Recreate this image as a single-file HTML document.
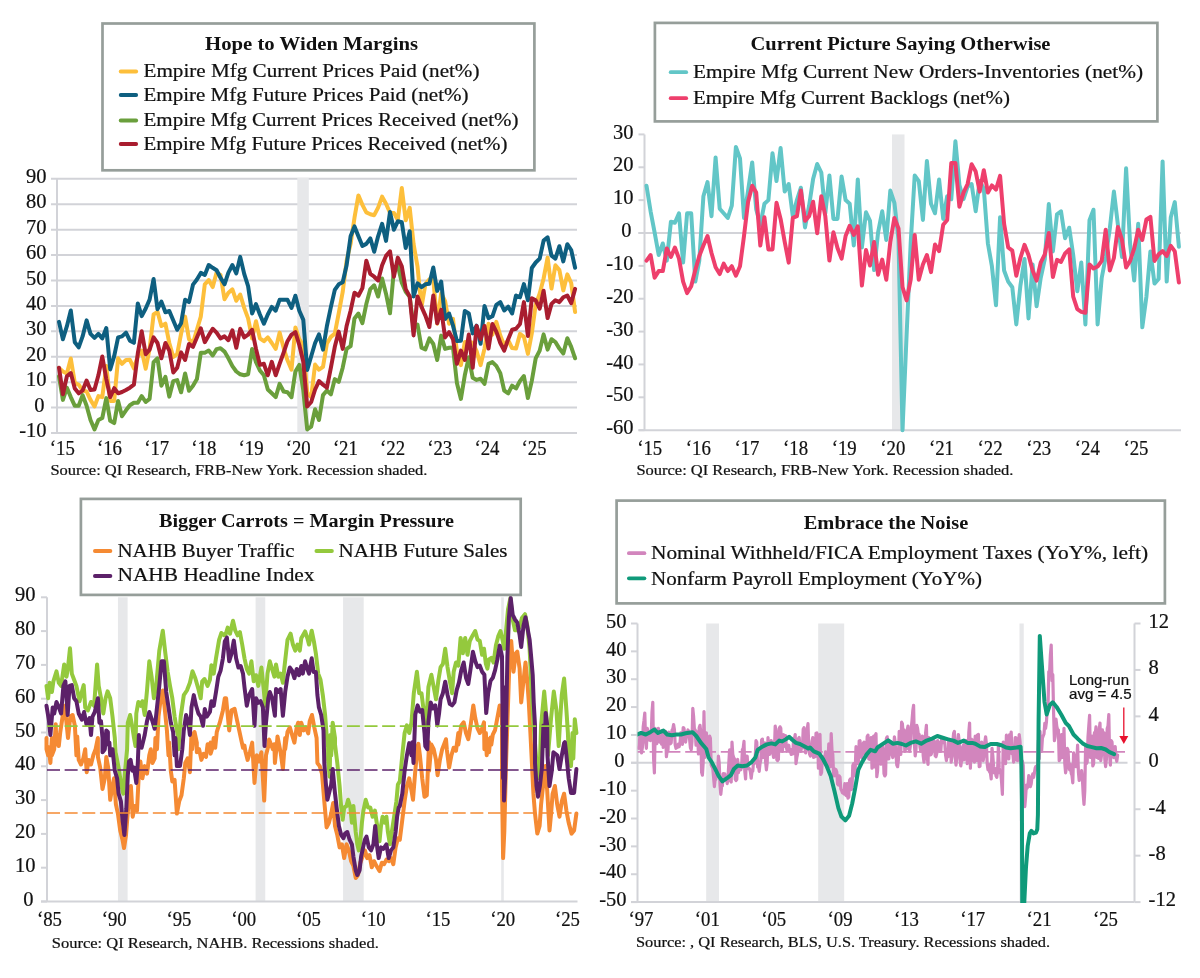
<!DOCTYPE html>
<html lang="en"><head><meta charset="utf-8"><title>Charts</title>
<style>
html,body{margin:0;padding:0;background:#fff;}
svg{display:block;font-family:"Liberation Serif", serif;}
</style></head><body>
<svg width="1200" height="978" viewBox="0 0 1200 978">
<rect width="1200" height="978" fill="#fff"/>
<line x1="51" y1="432.96000000000004" x2="577" y2="432.96000000000004" stroke="#d2d3d8" stroke-width="2.0"/>
<line x1="51" y1="407.55" x2="577" y2="407.55" stroke="#d2d3d8" stroke-width="2.0"/>
<line x1="51" y1="382.14" x2="577" y2="382.14" stroke="#d2d3d8" stroke-width="2.0"/>
<line x1="51" y1="356.73" x2="577" y2="356.73" stroke="#d2d3d8" stroke-width="2.0"/>
<line x1="51" y1="331.32" x2="577" y2="331.32" stroke="#d2d3d8" stroke-width="2.0"/>
<line x1="51" y1="305.91" x2="577" y2="305.91" stroke="#d2d3d8" stroke-width="2.0"/>
<line x1="51" y1="280.5" x2="577" y2="280.5" stroke="#d2d3d8" stroke-width="2.0"/>
<line x1="51" y1="255.09" x2="577" y2="255.09" stroke="#d2d3d8" stroke-width="2.0"/>
<line x1="51" y1="229.68" x2="577" y2="229.68" stroke="#d2d3d8" stroke-width="2.0"/>
<line x1="51" y1="204.27" x2="577" y2="204.27" stroke="#d2d3d8" stroke-width="2.0"/>
<line x1="51" y1="178.86" x2="577" y2="178.86" stroke="#d2d3d8" stroke-width="2.0"/>
<rect x="297.3" y="177.86" width="11.50" height="254.10" fill="#e7e8ea"/>
<line x1="57" y1="178.86" x2="57" y2="432.96000000000004" stroke="#d2d3d8" stroke-width="2.0"/>
<text x="46.5" y="437.11" font-size="20.5" text-anchor="end" fill="#111" stroke="#111" stroke-width="0.22">-10</text>
<text x="44.5" y="411.7" font-size="20.5" text-anchor="end" fill="#111" stroke="#111" stroke-width="0.22">0</text>
<text x="46.5" y="386.28999999999996" font-size="20.5" text-anchor="end" fill="#111" stroke="#111" stroke-width="0.22">10</text>
<text x="46.5" y="360.88" font-size="20.5" text-anchor="end" fill="#111" stroke="#111" stroke-width="0.22">20</text>
<text x="46.5" y="335.46999999999997" font-size="20.5" text-anchor="end" fill="#111" stroke="#111" stroke-width="0.22">30</text>
<text x="46.5" y="310.06" font-size="20.5" text-anchor="end" fill="#111" stroke="#111" stroke-width="0.22">40</text>
<text x="46.5" y="284.65" font-size="20.5" text-anchor="end" fill="#111" stroke="#111" stroke-width="0.22">50</text>
<text x="46.5" y="259.24" font-size="20.5" text-anchor="end" fill="#111" stroke="#111" stroke-width="0.22">60</text>
<text x="46.5" y="233.83" font-size="20.5" text-anchor="end" fill="#111" stroke="#111" stroke-width="0.22">70</text>
<text x="46.5" y="208.42000000000002" font-size="20.5" text-anchor="end" fill="#111" stroke="#111" stroke-width="0.22">80</text>
<text x="46.5" y="183.01000000000002" font-size="20.5" text-anchor="end" fill="#111" stroke="#111" stroke-width="0.22">90</text>
<text x="49.8" y="454.6" font-size="20.5" text-anchor="start" fill="#111" textLength="25" lengthAdjust="spacingAndGlyphs" stroke="#111" stroke-width="0.22">‘15</text>
<text x="96.97999999999999" y="454.6" font-size="20.5" text-anchor="start" fill="#111" textLength="25" lengthAdjust="spacingAndGlyphs" stroke="#111" stroke-width="0.22">‘16</text>
<text x="144.16" y="454.6" font-size="20.5" text-anchor="start" fill="#111" textLength="25" lengthAdjust="spacingAndGlyphs" stroke="#111" stroke-width="0.22">‘17</text>
<text x="191.33999999999997" y="454.6" font-size="20.5" text-anchor="start" fill="#111" textLength="25" lengthAdjust="spacingAndGlyphs" stroke="#111" stroke-width="0.22">‘18</text>
<text x="238.51999999999998" y="454.6" font-size="20.5" text-anchor="start" fill="#111" textLength="25" lengthAdjust="spacingAndGlyphs" stroke="#111" stroke-width="0.22">‘19</text>
<text x="285.7" y="454.6" font-size="20.5" text-anchor="start" fill="#111" textLength="25" lengthAdjust="spacingAndGlyphs" stroke="#111" stroke-width="0.22">‘20</text>
<text x="332.88" y="454.6" font-size="20.5" text-anchor="start" fill="#111" textLength="25" lengthAdjust="spacingAndGlyphs" stroke="#111" stroke-width="0.22">‘21</text>
<text x="380.06" y="454.6" font-size="20.5" text-anchor="start" fill="#111" textLength="25" lengthAdjust="spacingAndGlyphs" stroke="#111" stroke-width="0.22">‘22</text>
<text x="427.24" y="454.6" font-size="20.5" text-anchor="start" fill="#111" textLength="25" lengthAdjust="spacingAndGlyphs" stroke="#111" stroke-width="0.22">‘23</text>
<text x="474.42" y="454.6" font-size="20.5" text-anchor="start" fill="#111" textLength="25" lengthAdjust="spacingAndGlyphs" stroke="#111" stroke-width="0.22">‘24</text>
<text x="521.6" y="454.6" font-size="20.5" text-anchor="start" fill="#111" textLength="25" lengthAdjust="spacingAndGlyphs" stroke="#111" stroke-width="0.22">‘25</text>
<text x="50.4" y="475" font-size="15" text-anchor="start" fill="#111" textLength="377" lengthAdjust="spacingAndGlyphs" stroke="#111" stroke-width="0.22">Source: QI Research, FRB-New York. Recession shaded.</text>
<polyline points="59.0,367.9 62.9,371.5 66.9,373.5 70.8,358.5 74.8,382.9 78.7,384.7 82.6,390.5 86.6,391.5 90.5,399.9 94.5,406.5 98.4,396.1 102.3,397.1 106.3,365.9 110.2,400.9 114.2,400.9 118.1,358.3 122.0,363.8 126.0,360.0 129.9,359.8 133.9,368.4 137.8,356.2 141.7,350.6 145.7,368.7 149.6,348.9 153.6,314.5 157.5,311.8 161.4,326.0 165.4,323.7 169.3,343.0 173.3,357.0 177.2,354.2 181.1,333.6 185.1,316.6 189.0,339.2 193.0,343.0 196.9,329.8 200.8,316.6 204.8,284.3 208.7,280.0 212.7,287.1 216.6,272.6 220.5,274.9 224.5,299.3 228.4,292.7 232.4,289.4 236.3,300.8 240.2,294.5 244.2,307.9 248.1,318.4 252.1,338.4 256.0,321.2 259.9,338.4 263.9,341.2 267.8,337.4 271.8,343.0 275.7,348.9 279.6,332.6 283.6,347.8 287.5,360.3 291.5,369.7 295.4,327.5 299.3,339.2 303.3,345.3 307.2,392.8 311.2,397.1 315.1,364.6 319.0,369.7 323.0,366.9 326.9,343.5 330.9,336.9 334.8,333.6 338.7,313.3 342.7,291.9 346.6,260.7 350.6,243.9 354.5,217.7 358.4,195.4 362.4,204.8 366.3,212.4 370.3,214.2 374.2,215.2 378.1,207.6 382.1,196.6 386.0,203.8 390.0,212.7 393.9,212.9 397.8,220.0 401.8,188.0 405.7,220.3 409.7,207.8 413.6,244.2 417.5,266.5 421.5,306.9 425.4,284.1 429.4,279.2 433.3,279.2 437.2,323.7 441.2,293.2 445.1,301.1 449.1,323.7 453.0,318.9 456.9,351.6 460.9,365.1 464.8,342.0 468.8,342.0 472.7,342.8 476.6,351.1 480.6,365.1 484.5,348.6 488.5,323.7 492.4,334.6 496.3,321.9 500.3,335.6 504.2,345.3 508.2,340.2 512.1,348.1 516.0,348.6 520.0,333.9 523.9,336.9 527.9,353.9 531.8,333.4 535.7,304.6 539.7,293.5 543.6,278.5 547.6,257.6 551.5,288.6 555.4,265.3 559.4,270.1 563.3,290.4 567.3,274.4 571.2,283.0 575.1,312.0" fill="none" stroke="#fdbf3b" stroke-width="4.0" stroke-linejoin="round" stroke-linecap="round"/>
<polyline points="59.0,321.9 62.9,339.2 66.9,326.2 70.8,310.5 74.8,342.2 78.7,347.3 82.6,336.4 86.6,320.4 90.5,333.9 94.5,337.9 98.4,333.9 102.3,338.4 106.3,328.0 110.2,369.4 114.2,356.2 118.1,337.4 122.0,336.4 126.0,332.6 129.9,340.7 133.9,342.8 137.8,303.4 141.7,316.1 145.7,308.5 149.6,299.6 153.6,279.0 157.5,309.2 161.4,301.6 165.4,312.3 169.3,311.0 173.3,320.6 177.2,329.8 181.1,323.2 185.1,299.8 189.0,302.1 193.0,284.6 196.9,279.5 200.8,272.9 204.8,274.9 208.7,265.0 212.7,267.8 216.6,270.3 220.5,277.7 224.5,284.3 228.4,272.6 232.4,265.0 236.3,273.4 240.2,256.9 244.2,273.9 248.1,286.1 252.1,313.5 256.0,304.1 259.9,314.5 263.9,323.7 267.8,314.5 271.8,306.9 275.7,310.7 279.6,299.8 283.6,299.8 287.5,299.8 291.5,307.9 295.4,295.7 299.3,310.7 303.3,319.9 307.2,369.9 311.2,356.2 315.1,343.0 319.0,334.4 323.0,349.6 326.9,326.0 330.9,306.9 334.8,289.9 338.7,284.3 342.7,282.3 346.6,265.3 350.6,236.3 354.5,226.4 358.4,236.3 362.4,245.9 366.3,243.9 370.3,238.3 374.2,251.8 378.1,236.3 382.1,223.8 386.0,240.9 390.0,212.1 393.9,229.7 397.8,221.3 401.8,222.3 405.7,248.0 409.7,231.2 413.6,296.5 417.5,283.3 421.5,287.1 425.4,284.3 429.4,283.8 433.3,267.5 437.2,290.9 441.2,281.5 445.1,319.1 449.1,313.5 453.0,325.7 456.9,341.0 460.9,340.7 464.8,311.0 468.8,313.5 472.7,333.4 476.6,325.7 480.6,343.8 484.5,305.9 488.5,318.1 492.4,316.3 496.3,304.9 500.3,302.1 504.2,310.5 508.2,306.7 512.1,313.5 516.0,295.5 520.0,297.3 523.9,284.1 527.9,300.3 531.8,268.0 535.7,262.5 539.7,258.6 543.6,240.6 547.6,237.3 551.5,255.6 555.4,258.6 559.4,246.2 563.3,261.4 567.3,244.2 571.2,250.0 575.1,267.8" fill="none" stroke="#0e5f80" stroke-width="4.0" stroke-linejoin="round" stroke-linecap="round"/>
<polyline points="59.0,376.3 62.9,399.9 66.9,387.7 70.8,397.1 74.8,405.8 78.7,405.8 82.6,395.1 86.6,405.8 90.5,420.0 94.5,429.4 98.4,420.0 102.3,418.0 106.3,398.1 110.2,420.8 114.2,423.1 118.1,400.9 122.0,416.2 126.0,410.3 129.9,405.3 133.9,402.7 137.8,402.7 141.7,396.1 145.7,402.0 149.6,398.9 153.6,362.1 157.5,358.3 161.4,385.7 165.4,376.8 169.3,396.6 173.3,381.1 177.2,380.1 181.1,392.3 185.1,373.5 189.0,390.8 193.0,385.7 196.9,379.1 200.8,352.7 204.8,352.7 208.7,350.6 212.7,355.5 216.6,349.1 220.5,348.3 224.5,351.6 228.4,358.3 232.4,366.1 236.3,371.5 240.2,374.3 244.2,375.3 248.1,374.3 252.1,349.1 256.0,362.1 259.9,370.5 263.9,375.3 267.8,389.5 271.8,393.3 275.7,397.1 279.6,383.9 283.6,391.5 287.5,392.3 291.5,397.1 295.4,371.5 299.3,364.9 303.3,390.5 307.2,429.4 311.2,426.6 315.1,409.3 319.0,420.0 323.0,395.1 326.9,390.5 330.9,394.3 334.8,379.1 338.7,381.9 342.7,367.7 346.6,348.9 350.6,346.1 354.5,318.4 358.4,313.5 362.4,323.2 366.3,304.1 370.3,289.1 374.2,285.3 378.1,296.5 382.1,278.5 386.0,293.7 390.0,313.3 393.9,270.1 397.8,265.0 401.8,282.8 405.7,291.7 409.7,296.8 413.6,328.0 417.5,324.5 421.5,347.6 425.4,349.4 429.4,338.4 433.3,344.0 437.2,360.0 441.2,335.6 445.1,348.9 449.1,347.8 453.0,347.6 456.9,382.9 460.9,398.9 464.8,375.3 468.8,357.2 472.7,377.8 476.6,379.9 480.6,378.8 484.5,383.9 488.5,363.8 492.4,362.1 496.3,365.9 500.3,373.2 504.2,390.5 508.2,393.3 512.1,385.7 516.0,388.5 520.0,380.9 523.9,376.0 527.9,398.1 531.8,380.9 535.7,358.3 539.7,350.6 543.6,334.4 547.6,349.6 551.5,339.2 555.4,342.0 559.4,348.6 563.3,353.4 567.3,338.2 571.2,346.8 575.1,358.3" fill="none" stroke="#6a9f3c" stroke-width="4.0" stroke-linejoin="round" stroke-linecap="round"/>
<polyline points="59.0,367.7 62.9,394.3 66.9,376.3 70.8,373.0 74.8,388.5 78.7,393.3 82.6,390.5 86.6,380.6 90.5,390.0 94.5,389.5 98.4,375.3 102.3,356.5 106.3,379.1 110.2,397.1 114.2,388.2 118.1,393.3 122.0,392.0 126.0,390.0 129.9,387.7 133.9,384.7 137.8,353.4 141.7,331.3 145.7,354.2 149.6,349.6 153.6,337.4 157.5,343.0 161.4,358.3 165.4,343.0 169.3,350.6 173.3,372.5 177.2,367.7 181.1,352.4 185.1,360.0 189.0,344.0 193.0,346.8 196.9,337.4 200.8,328.3 204.8,342.2 208.7,335.4 212.7,328.8 216.6,332.6 220.5,338.4 224.5,336.4 228.4,340.2 232.4,330.3 236.3,347.8 240.2,328.8 244.2,337.4 248.1,334.6 252.1,329.8 256.0,348.9 259.9,364.9 263.9,363.8 267.8,375.3 271.8,361.8 275.7,375.3 279.6,363.8 283.6,352.7 287.5,341.2 291.5,334.6 295.4,332.1 299.3,345.0 303.3,361.8 307.2,406.5 311.2,402.0 315.1,389.5 319.0,381.1 323.0,384.7 326.9,387.7 330.9,367.7 334.8,346.8 338.7,331.6 342.7,348.9 346.6,326.0 350.6,310.7 354.5,292.7 358.4,295.7 362.4,288.1 366.3,260.7 370.3,273.9 374.2,276.7 378.1,280.5 382.1,265.3 386.0,255.9 390.0,251.3 393.9,276.7 397.8,257.6 401.8,266.3 405.7,289.1 409.7,296.5 413.6,335.4 417.5,296.5 421.5,306.9 425.4,315.6 429.4,327.0 433.3,295.5 437.2,323.2 441.2,309.7 445.1,337.4 449.1,332.1 453.0,339.2 456.9,363.8 460.9,350.6 464.8,360.0 468.8,334.6 472.7,367.7 476.6,326.0 480.6,339.2 484.5,326.0 488.5,348.6 492.4,324.0 496.3,331.6 500.3,343.0 504.2,350.6 508.2,339.2 512.1,329.8 516.0,328.8 520.0,324.0 523.9,302.1 527.9,336.1 531.8,298.3 535.7,300.3 539.7,308.7 543.6,290.7 547.6,318.1 551.5,303.9 555.4,300.3 559.4,302.1 563.3,297.3 567.3,295.5 571.2,303.1 575.1,288.9" fill="none" stroke="#a91d2f" stroke-width="4.0" stroke-linejoin="round" stroke-linecap="round"/>
<rect x="102.5" y="23.5" width="431.9" height="146.8" fill="#fff" stroke="#969e9a" stroke-width="2.7"/>
<text x="311.5" y="50" font-size="19.6" text-anchor="middle" fill="#111" textLength="213" lengthAdjust="spacingAndGlyphs" font-weight="bold">Hope to Widen Margins</text>
<line x1="120.7" y1="71.5" x2="136.2" y2="71.5" stroke="#fdbf3b" stroke-width="3.8" stroke-linecap="round"/>
<text x="143.5" y="77.3" font-size="19.3" text-anchor="start" fill="#111" textLength="336" lengthAdjust="spacingAndGlyphs" stroke="#111" stroke-width="0.22">Empire Mfg Current Prices Paid (net%)</text>
<line x1="120.7" y1="95" x2="136.2" y2="95" stroke="#0e5f80" stroke-width="3.8" stroke-linecap="round"/>
<text x="143.5" y="100.8" font-size="19.3" text-anchor="start" fill="#111" textLength="325" lengthAdjust="spacingAndGlyphs" stroke="#111" stroke-width="0.22">Empire Mfg Future Prices Paid (net%)</text>
<line x1="120.7" y1="120.5" x2="136.2" y2="120.5" stroke="#6a9f3c" stroke-width="3.8" stroke-linecap="round"/>
<text x="143.5" y="126.3" font-size="19.3" text-anchor="start" fill="#111" textLength="375" lengthAdjust="spacingAndGlyphs" stroke="#111" stroke-width="0.22">Empire Mfg Current Prices Received (net%)</text>
<line x1="120.7" y1="144" x2="136.2" y2="144" stroke="#a91d2f" stroke-width="3.8" stroke-linecap="round"/>
<text x="143.5" y="149.8" font-size="19.3" text-anchor="start" fill="#111" textLength="364" lengthAdjust="spacingAndGlyphs" stroke="#111" stroke-width="0.22">Empire Mfg Future Prices Received (net%)</text>
<rect x="892" y="134.42000000000002" width="12.50" height="295.74" fill="#e7e8ea"/>
<line x1="638.5" y1="233.0" x2="1181" y2="233.0" stroke="#d2d3d8" stroke-width="2.0"/>
<line x1="638.5" y1="430.15999999999997" x2="1181" y2="430.15999999999997" stroke="#d2d3d8" stroke-width="2.0"/>
<line x1="644.5" y1="134.42000000000002" x2="644.5" y2="430.15999999999997" stroke="#d2d3d8" stroke-width="2.0"/>
<line x1="638.5" y1="430.15999999999997" x2="644.5" y2="430.15999999999997" stroke="#d2d3d8" stroke-width="2.0"/>
<text x="633.5" y="434.30999999999995" font-size="20.5" text-anchor="end" fill="#111" stroke="#111" stroke-width="0.22">-60</text>
<line x1="638.5" y1="397.3" x2="644.5" y2="397.3" stroke="#d2d3d8" stroke-width="2.0"/>
<text x="633.5" y="401.45" font-size="20.5" text-anchor="end" fill="#111" stroke="#111" stroke-width="0.22">-50</text>
<line x1="638.5" y1="364.44" x2="644.5" y2="364.44" stroke="#d2d3d8" stroke-width="2.0"/>
<text x="633.5" y="368.59" font-size="20.5" text-anchor="end" fill="#111" stroke="#111" stroke-width="0.22">-40</text>
<line x1="638.5" y1="331.58" x2="644.5" y2="331.58" stroke="#d2d3d8" stroke-width="2.0"/>
<text x="633.5" y="335.72999999999996" font-size="20.5" text-anchor="end" fill="#111" stroke="#111" stroke-width="0.22">-30</text>
<line x1="638.5" y1="298.72" x2="644.5" y2="298.72" stroke="#d2d3d8" stroke-width="2.0"/>
<text x="633.5" y="302.87" font-size="20.5" text-anchor="end" fill="#111" stroke="#111" stroke-width="0.22">-20</text>
<line x1="638.5" y1="265.86" x2="644.5" y2="265.86" stroke="#d2d3d8" stroke-width="2.0"/>
<text x="633.5" y="270.01" font-size="20.5" text-anchor="end" fill="#111" stroke="#111" stroke-width="0.22">-10</text>
<line x1="638.5" y1="233.0" x2="644.5" y2="233.0" stroke="#d2d3d8" stroke-width="2.0"/>
<text x="631.5" y="237.15" font-size="20.5" text-anchor="end" fill="#111" stroke="#111" stroke-width="0.22">0</text>
<line x1="638.5" y1="200.14" x2="644.5" y2="200.14" stroke="#d2d3d8" stroke-width="2.0"/>
<text x="633.5" y="204.29" font-size="20.5" text-anchor="end" fill="#111" stroke="#111" stroke-width="0.22">10</text>
<line x1="638.5" y1="167.28" x2="644.5" y2="167.28" stroke="#d2d3d8" stroke-width="2.0"/>
<text x="633.5" y="171.43" font-size="20.5" text-anchor="end" fill="#111" stroke="#111" stroke-width="0.22">20</text>
<line x1="638.5" y1="134.42000000000002" x2="644.5" y2="134.42000000000002" stroke="#d2d3d8" stroke-width="2.0"/>
<text x="633.5" y="138.57000000000002" font-size="20.5" text-anchor="end" fill="#111" stroke="#111" stroke-width="0.22">30</text>
<text x="637.2" y="454.6" font-size="20.5" text-anchor="start" fill="#111" textLength="25" lengthAdjust="spacingAndGlyphs" stroke="#111" stroke-width="0.22">‘15</text>
<text x="685.82" y="454.6" font-size="20.5" text-anchor="start" fill="#111" textLength="25" lengthAdjust="spacingAndGlyphs" stroke="#111" stroke-width="0.22">‘16</text>
<text x="734.44" y="454.6" font-size="20.5" text-anchor="start" fill="#111" textLength="25" lengthAdjust="spacingAndGlyphs" stroke="#111" stroke-width="0.22">‘17</text>
<text x="783.0600000000001" y="454.6" font-size="20.5" text-anchor="start" fill="#111" textLength="25" lengthAdjust="spacingAndGlyphs" stroke="#111" stroke-width="0.22">‘18</text>
<text x="831.6800000000001" y="454.6" font-size="20.5" text-anchor="start" fill="#111" textLength="25" lengthAdjust="spacingAndGlyphs" stroke="#111" stroke-width="0.22">‘19</text>
<text x="880.3000000000001" y="454.6" font-size="20.5" text-anchor="start" fill="#111" textLength="25" lengthAdjust="spacingAndGlyphs" stroke="#111" stroke-width="0.22">‘20</text>
<text x="928.9200000000001" y="454.6" font-size="20.5" text-anchor="start" fill="#111" textLength="25" lengthAdjust="spacingAndGlyphs" stroke="#111" stroke-width="0.22">‘21</text>
<text x="977.54" y="454.6" font-size="20.5" text-anchor="start" fill="#111" textLength="25" lengthAdjust="spacingAndGlyphs" stroke="#111" stroke-width="0.22">‘22</text>
<text x="1026.16" y="454.6" font-size="20.5" text-anchor="start" fill="#111" textLength="25" lengthAdjust="spacingAndGlyphs" stroke="#111" stroke-width="0.22">‘23</text>
<text x="1074.78" y="454.6" font-size="20.5" text-anchor="start" fill="#111" textLength="25" lengthAdjust="spacingAndGlyphs" stroke="#111" stroke-width="0.22">‘24</text>
<text x="1123.4" y="454.6" font-size="20.5" text-anchor="start" fill="#111" textLength="25" lengthAdjust="spacingAndGlyphs" stroke="#111" stroke-width="0.22">‘25</text>
<text x="636.4" y="475" font-size="15" text-anchor="start" fill="#111" textLength="377" lengthAdjust="spacingAndGlyphs" stroke="#111" stroke-width="0.22">Source: QI Research, FRB-New York. Recession shaded.</text>
<polyline points="646.5,185.7 650.6,211.3 654.6,232.3 658.7,255.0 662.8,243.5 666.8,260.6 670.9,221.8 674.9,222.8 679.0,213.3 683.1,262.6 687.1,213.3 691.2,213.3 695.3,281.6 699.3,260.6 703.4,196.2 707.5,182.1 711.5,216.2 715.6,157.4 719.7,208.7 723.7,213.3 727.8,217.9 731.8,205.7 735.9,146.9 740.0,158.4 744.0,217.9 748.1,190.6 752.2,162.4 756.2,209.3 760.3,224.8 764.4,203.8 768.4,200.1 772.5,153.2 776.5,181.1 780.6,147.9 784.7,191.6 788.7,184.0 792.8,216.2 796.9,200.1 800.9,187.7 805.0,227.4 809.1,205.7 813.1,179.1 817.2,164.0 821.3,172.5 825.3,213.3 829.4,175.5 833.4,218.9 837.5,218.9 841.6,176.5 845.6,200.1 849.7,203.8 853.8,245.5 857.8,179.4 861.9,247.5 866.0,212.3 870.0,220.8 874.1,270.1 878.1,232.3 882.2,211.3 886.3,239.9 890.3,190.6 894.4,202.8 898.5,239.6 902.5,430.2 906.6,334.9 910.7,242.9 914.7,175.5 918.8,181.1 922.9,219.9 926.9,161.0 931.0,203.8 935.0,213.3 939.1,179.4 943.2,218.9 947.2,196.2 951.3,199.2 955.4,141.3 959.4,185.0 963.5,199.2 967.6,186.7 971.6,184.0 975.7,211.3 979.7,181.1 983.8,188.6 987.9,243.5 991.9,266.2 996.0,305.3 1000.1,217.2 1004.1,270.5 1008.2,281.6 1012.3,287.2 1016.3,324.4 1020.4,285.6 1024.5,259.0 1028.5,318.4 1032.6,264.5 1036.6,306.3 1040.7,278.0 1044.8,259.0 1048.8,204.1 1052.9,251.4 1057.0,214.3 1061.0,211.3 1065.1,238.3 1069.2,227.7 1073.2,255.0 1077.3,291.2 1081.3,262.6 1085.4,324.4 1089.5,220.2 1093.5,209.7 1097.6,324.4 1101.7,278.0 1105.7,257.0 1109.8,228.7 1113.9,191.6 1117.9,224.8 1122.0,257.0 1126.1,168.3 1130.1,243.8 1134.2,280.6 1138.2,223.8 1142.3,327.3 1146.4,296.7 1150.4,251.4 1154.5,283.6 1158.6,279.0 1162.6,161.4 1166.7,281.6 1170.8,217.2 1174.8,202.1 1178.9,246.8" fill="none" stroke="#62c6c7" stroke-width="4.0" stroke-linejoin="round" stroke-linecap="round"/>
<polyline points="646.5,260.6 650.6,255.0 654.6,277.7 658.7,271.1 662.8,271.1 666.8,248.4 670.9,257.0 674.9,247.5 679.0,258.6 683.1,281.6 687.1,293.1 691.2,286.2 695.3,270.1 699.3,256.0 703.4,245.5 707.5,236.0 711.5,253.0 715.6,267.2 719.7,274.1 723.7,263.6 727.8,271.1 731.8,266.2 735.9,275.7 740.0,266.2 744.0,236.0 748.1,201.8 752.2,185.7 756.2,192.6 760.3,245.5 764.4,217.2 768.4,249.4 772.5,249.4 776.5,202.8 780.6,218.9 784.7,241.9 788.7,262.6 792.8,217.9 796.9,216.2 800.9,190.6 805.0,220.8 809.1,216.2 813.1,201.8 817.2,233.3 821.3,196.2 825.3,216.2 829.4,260.6 833.4,232.3 837.5,248.1 841.6,258.6 845.6,236.0 849.7,225.8 853.8,235.0 857.8,226.4 861.9,285.6 866.0,250.1 870.0,265.5 874.1,241.9 878.1,274.7 882.2,259.6 886.3,279.7 890.3,241.9 894.4,217.9 898.5,228.4 902.5,287.2 906.6,300.4 910.7,279.7 914.7,235.0 918.8,279.7 922.9,264.5 926.9,255.0 931.0,272.1 935.0,244.5 939.1,251.1 943.2,224.8 947.2,219.9 951.3,163.0 955.4,163.0 959.4,206.7 963.5,192.6 967.6,184.0 971.6,164.3 975.7,171.6 979.7,191.6 983.8,170.2 987.9,192.6 991.9,185.4 996.0,189.6 1000.1,175.8 1004.1,223.8 1008.2,247.5 1012.3,250.7 1016.3,275.7 1020.4,258.0 1024.5,244.8 1028.5,255.0 1032.6,270.5 1036.6,280.6 1040.7,262.6 1044.8,254.4 1048.8,233.0 1052.9,277.0 1057.0,259.9 1061.0,261.9 1065.1,253.4 1069.2,249.4 1073.2,296.7 1077.3,309.2 1081.3,311.9 1085.4,312.8 1089.5,264.5 1093.5,268.5 1097.6,266.5 1101.7,260.9 1105.7,229.7 1109.8,270.5 1113.9,258.0 1117.9,227.1 1122.0,239.9 1126.1,267.5 1130.1,260.9 1134.2,248.4 1138.2,229.7 1142.3,239.9 1146.4,219.5 1150.4,216.9 1154.5,260.9 1158.6,254.4 1162.6,251.1 1166.7,256.0 1170.8,245.8 1174.8,251.4 1178.9,282.6" fill="none" stroke="#ee3f6c" stroke-width="4.0" stroke-linejoin="round" stroke-linecap="round"/>
<rect x="654.9" y="22.9" width="502.5000000000001" height="98.5" fill="#fff" stroke="#969e9a" stroke-width="2.7"/>
<text x="900.5" y="50" font-size="19.6" text-anchor="middle" fill="#111" textLength="300" lengthAdjust="spacingAndGlyphs" font-weight="bold">Current Picture Saying Otherwise</text>
<line x1="670.7" y1="72.2" x2="686.2" y2="72.2" stroke="#62c6c7" stroke-width="3.8" stroke-linecap="round"/>
<text x="693" y="77.85" font-size="19.3" text-anchor="start" fill="#111" textLength="450" lengthAdjust="spacingAndGlyphs" stroke="#111" stroke-width="0.22">Empire Mfg Current New Orders-Inventories (net%)</text>
<line x1="670.7" y1="98.2" x2="686.2" y2="98.2" stroke="#ee3f6c" stroke-width="3.8" stroke-linecap="round"/>
<text x="693" y="104.35" font-size="19.3" text-anchor="start" fill="#111" textLength="317" lengthAdjust="spacingAndGlyphs" stroke="#111" stroke-width="0.22">Empire Mfg Current Backlogs (net%)</text>
<rect x="117.95" y="597.3" width="9.67" height="304.20" fill="#e7e8ea"/>
<rect x="255.59300000000096" y="597.3" width="9.67" height="304.20" fill="#e7e8ea"/>
<rect x="343.0550000000006" y="597.3" width="20.64" height="304.20" fill="#e7e8ea"/>
<rect x="501.2" y="597.3" width="2.60" height="304.20" fill="#e7e8ea"/>
<line x1="47" y1="597.3" x2="47" y2="901.5" stroke="#d2d3d8" stroke-width="2.0"/>
<line x1="41" y1="901.5" x2="577.5" y2="901.5" stroke="#d2d3d8" stroke-width="2.0"/>
<line x1="41" y1="901.5" x2="47" y2="901.5" stroke="#d2d3d8" stroke-width="2.0"/>
<text x="33.5" y="905.65" font-size="20.5" text-anchor="end" fill="#111" stroke="#111" stroke-width="0.22">0</text>
<line x1="41" y1="867.7" x2="47" y2="867.7" stroke="#d2d3d8" stroke-width="2.0"/>
<text x="35.5" y="871.85" font-size="20.5" text-anchor="end" fill="#111" stroke="#111" stroke-width="0.22">10</text>
<line x1="41" y1="833.9" x2="47" y2="833.9" stroke="#d2d3d8" stroke-width="2.0"/>
<text x="35.5" y="838.05" font-size="20.5" text-anchor="end" fill="#111" stroke="#111" stroke-width="0.22">20</text>
<line x1="41" y1="800.1" x2="47" y2="800.1" stroke="#d2d3d8" stroke-width="2.0"/>
<text x="35.5" y="804.25" font-size="20.5" text-anchor="end" fill="#111" stroke="#111" stroke-width="0.22">30</text>
<line x1="41" y1="766.3" x2="47" y2="766.3" stroke="#d2d3d8" stroke-width="2.0"/>
<text x="35.5" y="770.4499999999999" font-size="20.5" text-anchor="end" fill="#111" stroke="#111" stroke-width="0.22">40</text>
<line x1="41" y1="732.5" x2="47" y2="732.5" stroke="#d2d3d8" stroke-width="2.0"/>
<text x="35.5" y="736.65" font-size="20.5" text-anchor="end" fill="#111" stroke="#111" stroke-width="0.22">50</text>
<line x1="41" y1="698.7" x2="47" y2="698.7" stroke="#d2d3d8" stroke-width="2.0"/>
<text x="35.5" y="702.85" font-size="20.5" text-anchor="end" fill="#111" stroke="#111" stroke-width="0.22">60</text>
<line x1="41" y1="664.9" x2="47" y2="664.9" stroke="#d2d3d8" stroke-width="2.0"/>
<text x="35.5" y="669.05" font-size="20.5" text-anchor="end" fill="#111" stroke="#111" stroke-width="0.22">70</text>
<line x1="41" y1="631.1" x2="47" y2="631.1" stroke="#d2d3d8" stroke-width="2.0"/>
<text x="35.5" y="635.25" font-size="20.5" text-anchor="end" fill="#111" stroke="#111" stroke-width="0.22">80</text>
<line x1="41" y1="597.3" x2="47" y2="597.3" stroke="#d2d3d8" stroke-width="2.0"/>
<text x="35.5" y="601.4499999999999" font-size="20.5" text-anchor="end" fill="#111" stroke="#111" stroke-width="0.22">90</text>
<text x="37.0" y="926.2" font-size="20.5" text-anchor="start" fill="#111" textLength="25" lengthAdjust="spacingAndGlyphs" stroke="#111" stroke-width="0.22">‘85</text>
<text x="101.75" y="926.2" font-size="20.5" text-anchor="start" fill="#111" textLength="25" lengthAdjust="spacingAndGlyphs" stroke="#111" stroke-width="0.22">‘90</text>
<text x="166.5" y="926.2" font-size="20.5" text-anchor="start" fill="#111" textLength="25" lengthAdjust="spacingAndGlyphs" stroke="#111" stroke-width="0.22">‘95</text>
<text x="231.25" y="926.2" font-size="20.5" text-anchor="start" fill="#111" textLength="25" lengthAdjust="spacingAndGlyphs" stroke="#111" stroke-width="0.22">‘00</text>
<text x="296.0" y="926.2" font-size="20.5" text-anchor="start" fill="#111" textLength="25" lengthAdjust="spacingAndGlyphs" stroke="#111" stroke-width="0.22">‘05</text>
<text x="360.75" y="926.2" font-size="20.5" text-anchor="start" fill="#111" textLength="25" lengthAdjust="spacingAndGlyphs" stroke="#111" stroke-width="0.22">‘10</text>
<text x="425.5" y="926.2" font-size="20.5" text-anchor="start" fill="#111" textLength="25" lengthAdjust="spacingAndGlyphs" stroke="#111" stroke-width="0.22">‘15</text>
<text x="490.25" y="926.2" font-size="20.5" text-anchor="start" fill="#111" textLength="25" lengthAdjust="spacingAndGlyphs" stroke="#111" stroke-width="0.22">‘20</text>
<text x="555.0" y="926.2" font-size="20.5" text-anchor="start" fill="#111" textLength="25" lengthAdjust="spacingAndGlyphs" stroke="#111" stroke-width="0.22">‘25</text>
<text x="51.8" y="947.5" font-size="15.2" text-anchor="start" fill="#111" textLength="327" lengthAdjust="spacingAndGlyphs" stroke="#111" stroke-width="0.22">Source: QI Research, NAHB. Recessions shaded.</text>
<polyline points="46.5,738.0 46.5,749.2 48.1,755.3 48.8,747.2 50.4,763.0 51.9,738.0 51.9,755.3 54.2,749.2 55.7,724.2 56.5,744.6 58.0,735.0 58.8,746.1 60.3,731.9 62.6,716.6 64.6,705.8 66.5,722.7 68.0,738.0 70.3,716.6 72.6,715.0 74.9,725.8 76.4,755.3 77.2,736.5 78.7,759.9 81.0,764.5 83.3,758.4 85.2,749.2 86.7,772.2 88.7,759.9 91.0,764.5 93.3,755.3 95.6,749.2 97.9,738.0 97.9,756.9 100.2,767.6 102.5,789.1 104.8,778.3 106.3,756.9 108.2,767.6 110.2,799.8 112.5,786.0 114.0,778.3 115.9,804.4 117.9,813.6 120.2,830.5 122.5,839.7 124.0,848.1 126.0,835.1 127.8,812.1 129.4,798.3 130.9,786.0 132.7,816.7 134.7,806.0 137.0,810.6 138.6,778.3 140.4,761.5 142.4,778.3 144.7,766.1 147.0,773.7 149.3,755.3 150.8,749.2 152.4,763.0 154.7,758.4 155.4,738.0 157.0,749.2 158.5,716.6 160.8,698.2 162.8,690.5 164.6,707.4 166.9,730.4 168.5,755.3 169.2,742.6 170.8,770.7 172.3,781.4 174.6,779.9 176.9,813.6 179.2,801.3 181.5,795.2 183.8,778.3 185.3,763.0 187.6,758.4 189.9,772.2 191.5,733.4 192.2,749.2 194.5,731.9 196.8,742.6 196.8,752.3 199.1,749.2 201.4,759.9 203.7,753.8 206.0,756.9 207.6,744.2 208.3,749.2 210.6,742.6 210.6,753.8 212.9,746.1 213.7,738.0 215.2,747.7 216.8,731.9 219.8,722.7 222.9,710.4 224.8,698.2 226.1,698.2 229.2,730.4 231.5,710.4 234.6,708.9 236.9,719.6 239.2,730.4 241.5,741.1 243.0,747.7 244.5,745.7 245.3,750.7 247.6,759.9 249.9,752.3 252.2,742.6 252.2,743.1 254.5,782.9 256.8,755.3 259.1,761.5 261.4,752.3 264.2,800.6 266.0,755.3 268.3,746.1 269.1,739.6 272.9,749.2 274.4,744.2 274.9,763.0 276.7,746.1 277.5,736.5 280.6,752.3 282.9,769.1 285.2,738.0 285.2,749.2 287.5,731.9 289.8,727.3 292.1,735.0 294.4,742.6 296.7,727.3 298.2,722.7 299.8,735.0 301.3,722.7 303.6,730.4 305.9,727.3 308.2,733.4 309.7,721.2 312.0,715.0 314.3,727.3 316.6,738.0 317.4,763.0 319.7,766.1 322.0,773.7 324.3,801.3 326.6,827.4 328.9,822.8 331.2,813.6 333.2,802.9 335.0,825.9 337.3,835.1 339.6,847.4 341.9,844.3 344.2,858.1 346.5,844.3 348.8,850.4 351.1,861.2 353.4,865.8 355.7,878.0 358.0,875.0 360.3,862.7 362.6,856.6 364.9,850.4 367.2,858.1 369.5,855.0 371.8,867.3 374.1,861.2 376.4,865.8 379.5,871.1 381.8,862.7 384.1,864.2 386.4,859.6 388.7,861.2 391.0,858.1 393.3,864.2 395.6,847.4 397.9,838.2 399.8,839.7 402.3,819.8 404.6,801.3 406.9,786.0 409.2,778.3 411.5,790.6 413.0,799.8 415.3,770.7 417.6,746.1 418.4,743.8 419.9,755.3 422.2,778.3 424.5,796.7 426.8,795.2 429.1,742.2 429.1,770.7 431.4,744.6 433.7,749.2 436.0,759.9 437.6,775.3 439.9,759.9 442.2,749.2 444.5,743.1 446.0,739.2 446.8,749.2 449.1,767.6 451.4,755.3 453.7,747.7 456.0,750.7 458.3,733.0 458.3,744.6 461.3,725.4 463.7,722.3 466.0,733.0 468.3,739.2 470.6,725.4 473.3,705.4 475.2,717.7 477.5,728.4 479.8,733.0 482.1,728.4 484.0,722.3 484.4,749.2 485.9,733.0 486.7,755.3 488.2,739.2 489.0,752.3 490.5,737.6 491.3,744.6 492.8,734.6 495.1,730.0 497.4,717.7 499.7,705.4 502.0,717.7 502.0,786.0 503.1,858.1 504.3,832.0 505.8,770.7 508.6,687.0 509.7,656.3 511.2,641.0 513.5,671.7 515.8,653.3 517.3,651.7 519.6,668.6 521.2,702.4 523.5,680.9 525.5,662.5 527.3,680.9 528.8,702.4 530.4,733.0 531.9,763.0 533.4,793.7 535.0,813.6 537.3,833.6 539.6,825.9 541.1,804.4 543.4,782.9 545.4,766.1 547.2,790.6 549.5,830.5 551.1,813.6 552.6,793.7 554.9,786.0 557.2,804.4 559.5,816.7 561.8,801.3 564.1,793.7 566.4,810.6 568.7,822.8 571.5,833.6 574.1,830.5 576.4,813.6" fill="none" stroke="#f58a33" stroke-width="4.0" stroke-linejoin="round" stroke-linecap="round"/>
<polyline points="46.5,685.9 48.1,698.2 49.6,682.8 51.9,692.0 53.4,681.3 56.5,671.3 58.8,682.8 61.1,685.9 64.2,664.4 66.5,676.7 68.0,667.5 70.0,648.3 71.8,673.6 74.1,679.8 76.4,685.9 79.5,701.2 81.8,692.0 83.7,685.1 85.2,707.4 87.9,710.4 91.0,702.0 94.1,705.8 97.1,664.4 98.7,685.9 101.0,698.2 103.3,713.5 105.6,698.2 107.6,691.3 110.2,698.2 112.5,716.6 114.8,738.0 115.6,752.3 118.6,767.6 120.9,782.9 123.2,793.7 125.1,770.7 127.1,749.2 127.8,722.7 130.1,715.0 132.4,727.3 134.0,738.0 135.5,746.1 136.3,713.5 138.3,702.0 140.9,705.8 142.4,701.2 144.7,715.0 147.0,690.5 149.3,661.3 151.6,676.7 153.9,698.2 156.2,685.9 159.3,650.6 162.8,630.7 165.4,653.7 167.7,672.1 170.0,685.9 172.3,698.2 174.6,716.6 176.9,730.4 178.4,738.0 178.4,749.2 180.7,716.6 183.8,695.1 186.9,690.5 189.9,682.8 192.5,671.3 195.3,678.2 198.4,689.0 200.7,698.2 202.2,681.3 204.5,679.0 207.6,685.9 209.9,679.8 211.4,665.2 213.7,673.6 216.0,658.3 219.1,639.9 221.4,633.0 224.4,635.3 225.4,635.3 227.7,627.6 230.0,633.7 233.0,620.7 235.3,630.7 237.6,635.3 239.9,632.2 242.2,644.5 244.5,658.3 246.8,669.0 249.1,673.6 251.4,661.3 253.7,681.3 256.0,675.2 258.3,685.9 261.4,667.5 263.7,689.0 265.2,705.8 267.5,673.6 269.8,661.3 272.1,669.0 274.4,676.7 276.0,664.4 278.3,676.7 280.6,673.6 282.9,682.8 284.4,667.5 287.5,639.9 290.6,633.7 292.9,644.5 295.2,650.6 297.5,644.5 299.8,650.6 301.3,638.3 305.1,631.4 307.4,638.3 309.0,644.5 311.7,630.7 313.9,641.4 315.9,653.7 318.2,673.6 320.5,679.8 322.8,695.1 325.1,715.0 326.6,735.0 328.1,747.2 328.1,759.9 329.7,776.8 330.4,735.0 331.2,755.3 332.7,722.7 335.0,738.0 335.0,744.6 337.3,763.0 339.6,786.0 341.2,807.5 342.7,819.8 344.2,807.5 346.5,806.0 348.1,799.8 350.4,807.5 351.9,822.8 353.4,806.0 355.7,832.0 357.3,844.3 358.8,850.4 360.3,841.2 361.9,822.8 363.4,810.6 365.7,799.8 368.0,807.5 370.3,807.5 372.6,816.7 374.9,810.6 377.2,825.9 379.5,841.2 381.0,825.9 382.6,816.7 384.9,822.8 386.4,816.7 387.9,832.0 389.9,844.3 391.8,832.0 394.1,816.7 396.4,801.3 397.9,784.5 399.8,781.4 402.3,755.3 404.6,733.0 406.9,725.4 409.2,733.0 411.5,722.3 413.8,693.2 416.9,671.7 419.2,693.2 421.5,693.2 423.8,711.6 426.1,725.4 428.4,687.0 431.4,674.8 433.7,687.0 436.0,699.3 438.3,680.9 440.6,667.1 442.9,664.0 445.2,648.7 447.5,667.1 449.8,680.9 452.1,693.2 453.7,671.7 456.0,662.5 458.3,665.6 460.6,637.9 462.9,653.3 465.2,637.9 467.5,654.8 469.8,641.0 472.1,636.4 475.2,631.0 477.5,639.5 479.8,641.0 482.1,654.8 484.0,648.7 485.9,664.0 487.4,668.6 489.0,659.4 491.3,657.9 493.6,662.5 495.9,645.6 498.2,636.4 500.5,631.0 502.8,641.0 504.3,648.7 505.8,633.3 508.1,608.8 510.4,598.1 512.7,619.5 515.0,630.3 517.3,630.3 519.6,627.2 521.9,618.0 525.0,614.2 527.3,625.7 529.6,648.7 531.1,680.9 532.7,710.0 534.2,733.0 536.5,763.0 538.0,778.3 539.9,763.0 541.1,725.4 544.2,691.6 546.5,717.7 548.0,755.3 551.1,717.7 553.8,691.6 556.4,710.0 558.7,746.1 560.3,717.7 561.8,694.7 564.1,678.6 566.4,710.0 567.9,733.0 568.7,755.3 571.0,766.1 572.5,733.0 573.3,758.4 574.8,719.2 576.4,733.0" fill="none" stroke="#94c93d" stroke-width="4.0" stroke-linejoin="round" stroke-linecap="round"/>
<polyline points="46.5,705.8 48.8,719.6 50.4,735.0 52.7,707.4 54.2,713.5 56.5,702.0 58.8,707.4 61.1,713.5 63.4,685.9 65.4,681.3 67.7,715.0 69.5,685.9 71.8,685.1 74.1,698.2 76.4,701.2 78.7,713.5 81.8,719.6 84.1,712.0 86.4,724.2 89.5,718.1 91.0,735.0 92.5,716.6 94.8,712.0 97.9,698.2 99.4,722.7 101.0,721.2 102.5,738.0 102.5,752.3 104.8,749.2 106.3,730.4 107.9,731.9 107.9,744.6 109.4,742.6 110.2,755.3 112.5,749.2 114.8,770.7 117.1,778.3 118.6,793.7 120.9,801.3 122.5,819.8 124.4,835.1 126.3,809.0 127.8,775.3 129.0,761.5 130.6,759.9 132.4,770.7 134.0,767.6 136.3,782.9 137.8,763.0 138.9,735.0 139.3,743.1 141.6,744.2 141.6,747.7 144.7,735.0 147.0,721.2 149.3,712.0 152.4,721.2 154.7,728.8 157.0,707.4 159.3,685.9 161.6,661.3 163.9,661.3 166.2,692.0 168.5,707.4 170.8,722.7 173.1,731.9 174.6,755.3 175.4,738.0 176.9,766.1 180.0,766.1 182.3,749.2 183.8,730.4 186.1,715.0 188.4,722.7 189.9,735.0 191.5,707.4 193.8,695.1 196.1,705.8 198.4,713.5 200.7,716.6 203.0,725.8 204.8,708.9 206.8,716.6 209.9,712.0 211.4,701.2 213.7,705.8 216.0,692.0 218.3,676.7 220.6,670.6 222.9,658.3 224.8,641.4 226.9,637.6 229.2,661.3 231.5,653.7 233.8,640.6 236.1,658.3 238.4,667.5 240.7,666.0 243.0,673.6 244.5,687.4 246.8,705.8 249.1,695.1 252.2,689.0 254.5,725.8 256.0,698.2 258.3,702.8 260.6,701.2 262.9,707.4 264.5,745.7 264.5,746.1 266.0,722.7 268.3,698.2 269.8,692.0 272.1,698.2 274.9,715.8 276.0,689.0 278.3,692.0 280.6,689.0 282.9,715.8 285.2,692.0 287.5,676.7 289.8,667.5 292.1,670.6 294.4,678.2 296.7,669.0 299.0,675.2 301.3,666.0 302.8,673.6 305.1,661.3 307.4,669.0 309.0,673.6 311.7,658.3 313.6,672.1 315.9,672.1 317.4,695.1 318.9,707.4 321.2,715.0 323.5,730.4 324.3,763.0 325.8,782.9 327.4,799.8 329.7,790.6 331.2,784.5 332.7,769.1 334.7,790.6 336.6,807.5 338.9,825.9 341.2,835.1 343.5,838.2 345.0,833.6 347.3,832.0 349.6,839.7 351.9,844.3 353.4,856.6 355.7,870.4 357.3,875.0 359.6,870.4 361.1,856.6 363.4,845.8 364.9,839.7 366.5,836.6 368.8,847.4 371.1,850.4 373.4,844.3 375.2,825.9 377.2,847.4 378.7,858.1 381.0,847.4 383.3,848.9 386.4,844.3 388.7,858.1 391.0,850.4 393.3,847.4 395.6,832.0 397.1,816.7 398.7,807.5 399.8,806.0 402.3,793.7 404.6,770.7 406.9,755.3 409.2,743.1 411.5,755.3 412.3,742.2 413.5,763.0 415.3,714.6 417.6,705.4 419.9,711.6 422.2,710.0 424.5,733.0 425.3,746.1 427.3,749.2 428.4,722.3 430.7,702.4 433.0,708.5 435.3,705.4 437.3,725.4 439.1,713.1 440.6,699.3 442.9,693.2 445.2,681.7 447.5,694.7 449.8,703.9 452.1,705.4 454.4,702.4 456.7,690.1 459.0,682.4 461.3,670.2 463.7,662.5 466.0,677.8 468.3,684.0 470.6,668.6 472.9,651.7 475.2,661.0 477.5,667.1 479.8,665.6 482.1,671.7 484.4,674.8 486.2,713.1 488.2,693.2 490.5,680.9 492.8,677.8 495.1,670.2 497.4,659.4 499.7,645.6 502.0,656.3 503.1,778.3 503.5,687.0 504.0,800.6 505.1,778.3 507.4,656.3 508.9,618.0 510.7,598.1 512.7,614.9 515.0,619.5 517.3,622.6 519.6,634.9 521.2,647.1 523.5,625.7 525.5,617.2 527.3,627.2 529.6,639.5 531.1,656.3 532.7,674.8 533.7,702.4 535.0,725.4 535.0,763.0 536.5,786.0 538.0,796.7 539.9,786.0 541.9,767.6 543.4,725.4 544.2,746.1 545.7,713.1 547.2,725.4 547.5,755.3 549.5,786.0 551.8,770.7 553.4,752.3 557.2,755.3 559.5,769.1 561.8,755.3 564.1,743.1 564.9,742.2 566.4,755.3 568.7,778.3 571.0,792.9 574.1,792.9 576.4,769.1" fill="none" stroke="#5c2169" stroke-width="4.0" stroke-linejoin="round" stroke-linecap="round"/>
<line x1="47" y1="726.2132" x2="577" y2="726.2132" stroke="#94c93d" stroke-width="1.7" stroke-dasharray="13,4.64"/>
<line x1="47" y1="770.018" x2="577" y2="770.018" stroke="#5c2169" stroke-width="1.7" stroke-dasharray="13,4.64"/>
<line x1="47" y1="813.0116" x2="577" y2="813.0116" stroke="#f58a33" stroke-width="1.7" stroke-dasharray="13,4.64"/>
<rect x="80.9" y="498.9" width="439.80000000000007" height="96.0" fill="#fff" stroke="#969e9a" stroke-width="2.7"/>
<text x="306.5" y="527" font-size="19.6" text-anchor="middle" fill="#111" textLength="295" lengthAdjust="spacingAndGlyphs" font-weight="bold">Bigger Carrots = Margin Pressure</text>
<line x1="94.9" y1="551" x2="110.4" y2="551" stroke="#f58a33" stroke-width="3.8" stroke-linecap="round"/>
<text x="117.5" y="556.85" font-size="19.3" text-anchor="start" fill="#111" textLength="177" lengthAdjust="spacingAndGlyphs" stroke="#111" stroke-width="0.22">NAHB Buyer Traffic</text>
<line x1="316.4" y1="551" x2="331.9" y2="551" stroke="#94c93d" stroke-width="3.8" stroke-linecap="round"/>
<text x="338.5" y="556.85" font-size="19.3" text-anchor="start" fill="#111" textLength="169" lengthAdjust="spacingAndGlyphs" stroke="#111" stroke-width="0.22">NAHB Future Sales</text>
<line x1="94.9" y1="576" x2="110.4" y2="576" stroke="#5c2169" stroke-width="3.8" stroke-linecap="round"/>
<text x="117.5" y="581.35" font-size="19.3" text-anchor="start" fill="#111" textLength="197" lengthAdjust="spacingAndGlyphs" stroke="#111" stroke-width="0.22">NAHB Headline Index</text>
<rect x="706.1799000000012" y="623.5" width="12.85" height="278.60" fill="#e7e8ea"/>
<rect x="818.1759000000004" y="623.5" width="26.02" height="278.60" fill="#e7e8ea"/>
<rect x="1019.5" y="623.5" width="4.25" height="278.60" fill="#e7e8ea"/>
<line x1="637.5" y1="623.5" x2="637.5" y2="902.0999999999999" stroke="#d2d3d8" stroke-width="2.0"/>
<line x1="1134.5" y1="623.5" x2="1134.5" y2="902.0999999999999" stroke="#d2d3d8" stroke-width="2.0"/>
<line x1="631" y1="902.0999999999999" x2="1134.5" y2="902.0999999999999" stroke="#d2d3d8" stroke-width="2.0"/>
<line x1="631" y1="762.8" x2="1127.5" y2="762.8" stroke="#d2d3d8" stroke-width="2.0"/>
<line x1="631" y1="902.0999999999999" x2="637.5" y2="902.0999999999999" stroke="#d2d3d8" stroke-width="2.0"/>
<text x="626.5" y="906.2499999999999" font-size="20.5" text-anchor="end" fill="#111" stroke="#111" stroke-width="0.22">-50</text>
<line x1="631" y1="874.24" x2="637.5" y2="874.24" stroke="#d2d3d8" stroke-width="2.0"/>
<text x="626.5" y="878.39" font-size="20.5" text-anchor="end" fill="#111" stroke="#111" stroke-width="0.22">-40</text>
<line x1="631" y1="846.38" x2="637.5" y2="846.38" stroke="#d2d3d8" stroke-width="2.0"/>
<text x="626.5" y="850.53" font-size="20.5" text-anchor="end" fill="#111" stroke="#111" stroke-width="0.22">-30</text>
<line x1="631" y1="818.52" x2="637.5" y2="818.52" stroke="#d2d3d8" stroke-width="2.0"/>
<text x="626.5" y="822.67" font-size="20.5" text-anchor="end" fill="#111" stroke="#111" stroke-width="0.22">-20</text>
<line x1="631" y1="790.66" x2="637.5" y2="790.66" stroke="#d2d3d8" stroke-width="2.0"/>
<text x="626.5" y="794.81" font-size="20.5" text-anchor="end" fill="#111" stroke="#111" stroke-width="0.22">-10</text>
<line x1="631" y1="762.8" x2="637.5" y2="762.8" stroke="#d2d3d8" stroke-width="2.0"/>
<text x="624.5" y="766.9499999999999" font-size="20.5" text-anchor="end" fill="#111" stroke="#111" stroke-width="0.22">0</text>
<line x1="631" y1="734.9399999999999" x2="637.5" y2="734.9399999999999" stroke="#d2d3d8" stroke-width="2.0"/>
<text x="626.5" y="739.0899999999999" font-size="20.5" text-anchor="end" fill="#111" stroke="#111" stroke-width="0.22">10</text>
<line x1="631" y1="707.0799999999999" x2="637.5" y2="707.0799999999999" stroke="#d2d3d8" stroke-width="2.0"/>
<text x="626.5" y="711.2299999999999" font-size="20.5" text-anchor="end" fill="#111" stroke="#111" stroke-width="0.22">20</text>
<line x1="631" y1="679.2199999999999" x2="637.5" y2="679.2199999999999" stroke="#d2d3d8" stroke-width="2.0"/>
<text x="626.5" y="683.3699999999999" font-size="20.5" text-anchor="end" fill="#111" stroke="#111" stroke-width="0.22">30</text>
<line x1="631" y1="651.3599999999999" x2="637.5" y2="651.3599999999999" stroke="#d2d3d8" stroke-width="2.0"/>
<text x="626.5" y="655.5099999999999" font-size="20.5" text-anchor="end" fill="#111" stroke="#111" stroke-width="0.22">40</text>
<line x1="631" y1="623.5" x2="637.5" y2="623.5" stroke="#d2d3d8" stroke-width="2.0"/>
<text x="626.5" y="627.65" font-size="20.5" text-anchor="end" fill="#111" stroke="#111" stroke-width="0.22">50</text>
<line x1="1134.5" y1="902.096" x2="1140.5" y2="902.096" stroke="#d2d3d8" stroke-width="2.0"/>
<text x="1148.6" y="906.496" font-size="20.5" text-anchor="start" fill="#111" stroke="#111" stroke-width="0.22">-12</text>
<line x1="1134.5" y1="855.664" x2="1140.5" y2="855.664" stroke="#d2d3d8" stroke-width="2.0"/>
<text x="1148.6" y="860.064" font-size="20.5" text-anchor="start" fill="#111" stroke="#111" stroke-width="0.22">-8</text>
<line x1="1134.5" y1="809.232" x2="1140.5" y2="809.232" stroke="#d2d3d8" stroke-width="2.0"/>
<text x="1148.6" y="813.632" font-size="20.5" text-anchor="start" fill="#111" stroke="#111" stroke-width="0.22">-4</text>
<line x1="1134.5" y1="762.8" x2="1140.5" y2="762.8" stroke="#d2d3d8" stroke-width="2.0"/>
<text x="1148.6" y="767.1999999999999" font-size="20.5" text-anchor="start" fill="#111" stroke="#111" stroke-width="0.22">0</text>
<line x1="1134.5" y1="716.3679999999999" x2="1140.5" y2="716.3679999999999" stroke="#d2d3d8" stroke-width="2.0"/>
<text x="1148.6" y="720.7679999999999" font-size="20.5" text-anchor="start" fill="#111" stroke="#111" stroke-width="0.22">4</text>
<line x1="1134.5" y1="669.9359999999999" x2="1140.5" y2="669.9359999999999" stroke="#d2d3d8" stroke-width="2.0"/>
<text x="1148.6" y="674.3359999999999" font-size="20.5" text-anchor="start" fill="#111" stroke="#111" stroke-width="0.22">8</text>
<line x1="1134.5" y1="623.5039999999999" x2="1140.5" y2="623.5039999999999" stroke="#d2d3d8" stroke-width="2.0"/>
<text x="1148.6" y="627.9039999999999" font-size="20.5" text-anchor="start" fill="#111" stroke="#111" stroke-width="0.22">12</text>
<text x="628.5" y="926.2" font-size="20.5" text-anchor="start" fill="#111" textLength="25" lengthAdjust="spacingAndGlyphs" stroke="#111" stroke-width="0.22">‘97</text>
<text x="694.85" y="926.2" font-size="20.5" text-anchor="start" fill="#111" textLength="25" lengthAdjust="spacingAndGlyphs" stroke="#111" stroke-width="0.22">‘01</text>
<text x="761.2" y="926.2" font-size="20.5" text-anchor="start" fill="#111" textLength="25" lengthAdjust="spacingAndGlyphs" stroke="#111" stroke-width="0.22">‘05</text>
<text x="827.55" y="926.2" font-size="20.5" text-anchor="start" fill="#111" textLength="25" lengthAdjust="spacingAndGlyphs" stroke="#111" stroke-width="0.22">‘09</text>
<text x="893.9" y="926.2" font-size="20.5" text-anchor="start" fill="#111" textLength="25" lengthAdjust="spacingAndGlyphs" stroke="#111" stroke-width="0.22">‘13</text>
<text x="960.25" y="926.2" font-size="20.5" text-anchor="start" fill="#111" textLength="25" lengthAdjust="spacingAndGlyphs" stroke="#111" stroke-width="0.22">‘17</text>
<text x="1026.6" y="926.2" font-size="20.5" text-anchor="start" fill="#111" textLength="25" lengthAdjust="spacingAndGlyphs" stroke="#111" stroke-width="0.22">‘21</text>
<text x="1092.9499999999998" y="926.2" font-size="20.5" text-anchor="start" fill="#111" textLength="25" lengthAdjust="spacingAndGlyphs" stroke="#111" stroke-width="0.22">‘25</text>
<text x="636" y="947" font-size="15" text-anchor="start" fill="#111" textLength="414" lengthAdjust="spacingAndGlyphs" stroke="#111" stroke-width="0.22">Source: , QI Research, BLS, U.S. Treasury. Recessions shaded.</text>
<clipPath id="clip4"><rect x="637.5" y="620" width="497" height="283"/></clipPath>
<g clip-path="url(#clip4)">
<polyline points="638.4,748.3 639.2,745.0 640.0,733.8 640.8,747.9 641.6,752.9 642.4,747.2 643.2,726.6 644.0,720.5 644.8,713.0 645.6,741.5 646.4,748.3 647.2,728.3 648.0,730.9 648.8,740.0 649.6,736.0 650.4,740.6 651.2,736.7 652.0,712.4 652.8,702.3 653.6,758.6 654.4,772.8 655.2,728.3 656.0,740.1 656.8,743.7 657.6,739.9 658.4,728.3 659.2,738.9 660.0,742.1 660.8,739.9 661.6,744.2 662.4,730.7 663.2,747.5 664.0,733.1 664.8,736.5 665.6,731.4 666.4,756.7 667.2,750.6 668.0,750.3 668.8,732.0 669.6,743.0 670.4,743.7 671.2,742.7 672.0,730.4 672.8,729.0 673.6,724.5 674.4,729.6 675.2,744.8 676.0,748.3 676.8,745.0 677.6,747.3 678.4,744.2 679.2,746.7 680.0,743.4 680.8,732.9 681.6,733.0 682.4,744.3 683.2,727.5 684.0,728.3 684.8,735.9 685.6,742.1 686.4,736.2 687.2,732.4 688.0,729.9 688.8,733.0 689.6,739.3 690.4,747.6 691.2,749.8 692.0,741.4 692.8,708.4 693.6,716.5 694.4,729.1 695.2,729.9 696.0,745.2 696.8,742.8 697.6,731.9 698.4,753.9 699.2,727.7 700.0,725.3 700.8,732.3 701.6,772.4 702.4,775.1 703.2,762.1 704.0,711.5 704.8,757.5 705.6,751.3 706.4,732.9 707.2,749.2 708.0,754.4 708.8,750.1 709.6,736.0 710.4,738.3 711.2,765.1 712.0,766.7 712.8,768.4 713.6,777.6 714.4,786.6 715.2,778.3 716.0,779.2 716.8,770.6 717.6,775.9 718.4,756.0 719.2,762.8 720.0,785.4 720.8,794.3 721.6,786.5 722.4,785.8 723.2,773.5 724.0,777.4 724.8,773.9 725.6,780.1 726.4,777.8 727.2,783.6 728.0,777.5 728.8,763.7 729.6,749.8 730.4,780.9 731.2,782.0 732.0,742.1 732.8,754.5 733.6,757.5 734.4,758.6 735.2,779.1 736.0,780.5 736.8,779.5 737.6,759.3 738.4,772.7 739.2,767.7 740.0,766.8 740.8,769.8 741.6,766.7 742.4,749.6 743.2,748.3 744.0,741.4 744.8,771.4 745.6,779.0 746.4,756.0 747.2,756.3 748.0,768.6 748.8,768.2 749.6,768.6 750.4,771.8 751.2,778.2 752.0,771.5 752.8,771.2 753.6,760.0 754.4,763.6 755.2,758.3 756.0,740.6 756.8,742.3 757.6,766.9 758.4,765.2 759.2,771.3 760.0,763.6 760.8,760.0 761.6,740.1 762.4,739.1 763.2,757.5 764.0,757.5 764.8,742.9 765.6,761.9 766.4,769.8 767.2,762.7 768.0,737.6 768.8,750.5 769.6,754.4 770.4,750.8 771.2,740.6 772.0,743.6 772.8,752.9 773.6,757.5 774.4,750.3 775.2,726.0 776.0,731.2 776.8,759.7 777.6,760.6 778.4,759.4 779.2,728.7 780.0,726.8 780.8,728.3 781.6,751.0 782.4,751.3 783.2,734.5 784.0,735.3 784.8,746.5 785.6,735.6 786.4,747.4 787.2,751.3 788.0,746.7 788.8,745.3 789.6,751.7 790.4,749.5 791.2,754.4 792.0,749.3 792.8,753.8 793.6,738.2 794.4,740.3 795.2,734.5 796.0,763.6 796.8,757.7 797.6,753.9 798.4,738.7 799.2,737.5 800.0,748.1 800.8,751.3 801.6,747.5 802.4,747.8 803.2,729.2 804.0,727.6 804.8,746.5 805.6,752.9 806.4,747.3 807.2,729.2 808.0,723.7 808.8,748.3 809.6,754.4 810.4,756.0 811.2,751.4 812.0,741.4 812.8,737.5 813.6,757.5 814.4,752.5 815.2,756.6 816.0,733.2 816.8,732.9 817.6,735.3 818.4,768.1 819.2,735.1 820.0,734.5 820.8,774.4 821.6,772.4 822.4,756.7 823.2,760.6 824.0,757.4 824.8,758.5 825.6,751.8 826.4,760.9 827.2,763.6 828.0,760.3 828.8,743.8 829.6,765.6 830.4,766.7 831.2,733.7 832.0,750.3 832.8,754.4 833.6,775.9 834.4,775.7 835.2,769.1 836.0,769.8 836.8,772.0 837.6,784.1 838.4,785.1 839.2,775.9 840.0,777.1 840.8,789.0 841.6,790.4 842.4,792.8 843.2,790.9 844.0,793.9 844.8,783.6 845.6,794.9 846.4,795.8 847.2,783.6 848.0,798.1 848.8,797.0 849.6,780.1 850.4,779.0 851.2,789.7 852.0,788.9 852.8,765.6 853.6,763.6 854.4,775.9 855.2,770.1 856.0,746.7 856.8,760.4 857.6,763.6 858.4,763.1 859.2,741.0 860.0,740.6 860.8,753.5 861.6,757.5 862.4,754.2 863.2,743.3 864.0,742.1 864.8,752.0 865.6,754.4 866.4,754.2 867.2,736.5 868.0,735.2 868.8,759.0 869.6,759.3 870.4,742.0 871.2,737.5 872.0,768.2 872.8,763.1 873.6,736.2 874.4,767.0 875.2,735.7 876.0,733.7 876.8,776.7 877.6,770.9 878.4,748.3 879.2,760.6 880.0,763.6 880.8,764.1 881.6,746.2 882.4,745.2 883.2,749.5 884.0,773.7 884.8,775.9 885.6,774.4 886.4,738.4 887.2,736.8 888.0,759.0 888.8,758.9 889.6,742.3 890.4,746.0 891.2,742.1 892.0,754.5 892.8,757.5 893.6,752.7 894.4,736.8 895.2,743.0 896.0,755.0 896.8,765.1 897.6,766.7 898.4,759.8 899.2,731.4 900.0,750.0 900.8,754.4 901.6,722.2 902.4,723.8 903.2,733.8 904.0,729.9 904.8,751.3 905.6,747.0 906.4,749.0 907.2,730.1 908.0,726.0 908.8,745.2 909.6,751.3 910.4,745.6 911.2,728.6 912.0,720.7 912.8,710.7 913.6,705.3 914.4,744.5 915.2,756.0 916.0,749.8 916.8,725.3 917.6,728.5 918.4,734.9 919.2,734.5 920.0,747.2 920.8,751.3 921.6,747.5 922.4,736.0 923.2,755.8 924.0,762.1 924.8,755.2 925.6,732.8 926.4,725.3 927.2,756.5 928.0,764.4 928.8,737.5 929.6,739.0 930.4,754.9 931.2,754.4 932.0,751.5 932.8,739.1 933.6,740.3 934.4,741.2 935.2,755.9 936.0,756.7 936.8,753.4 937.6,740.6 938.4,743.9 939.2,742.3 940.0,751.5 940.8,751.3 941.6,739.1 942.4,739.8 943.2,742.6 944.0,740.7 944.8,742.9 945.6,755.3 946.4,760.6 947.2,754.6 948.0,756.8 948.8,739.0 949.6,744.7 950.4,740.6 951.2,762.1 952.0,755.9 952.8,742.1 953.6,733.4 954.4,731.4 955.2,757.1 956.0,765.2 956.8,757.4 957.6,741.8 958.4,734.5 959.2,741.5 960.0,759.8 960.8,765.9 961.6,760.3 962.4,747.6 963.2,745.5 964.0,760.0 964.8,740.4 965.6,742.6 966.4,740.6 967.2,763.6 968.0,757.2 968.8,732.7 969.6,723.0 970.4,768.2 971.2,739.1 972.0,745.0 972.8,740.0 973.6,761.1 974.4,762.1 975.2,736.0 976.0,737.1 976.8,760.4 977.6,734.9 978.4,734.5 979.2,766.7 980.0,766.1 980.8,743.3 981.6,742.1 982.4,755.9 983.2,760.6 984.0,755.3 984.8,742.3 985.6,736.8 986.4,743.7 987.2,764.1 988.0,769.8 988.8,764.3 989.6,771.9 990.4,773.1 991.2,779.0 992.0,748.3 992.8,755.4 993.6,766.7 994.4,773.0 995.2,768.6 996.0,775.7 996.8,777.4 997.6,771.0 998.4,745.2 999.2,767.4 1000.0,772.8 1000.8,772.7 1001.6,782.3 1002.4,794.3 1003.2,742.1 1004.0,749.6 1004.8,758.4 1005.6,763.6 1006.4,735.2 1007.2,740.1 1008.0,754.1 1008.8,759.0 1009.6,734.5 1010.4,739.2 1011.2,732.0 1012.0,753.7 1012.8,752.6 1013.6,762.1 1014.4,755.2 1015.2,737.5 1016.0,737.7 1016.8,760.3 1017.6,760.6 1018.4,755.7 1019.2,734.5 1020.0,741.1 1020.8,760.5 1021.6,766.7 1022.4,761.2 1023.2,765.4 1024.0,798.1 1024.8,806.6 1025.6,797.2 1026.4,785.0 1027.2,788.2 1028.0,784.5 1028.8,775.5 1029.6,783.9 1030.4,786.6 1031.2,783.8 1032.0,777.1 1032.8,773.9 1033.6,777.4 1034.4,773.1 1035.2,768.0 1036.0,766.3 1036.8,769.8 1037.6,765.9 1038.4,740.2 1039.2,758.7 1040.0,731.3 1040.8,745.3 1041.6,751.3 1042.4,738.3 1043.2,736.0 1044.0,734.0 1044.8,723.3 1045.6,728.3 1046.4,722.3 1047.2,709.7 1048.0,708.4 1048.8,671.6 1049.6,672.0 1050.4,654.9 1051.2,645.1 1052.0,680.8 1052.8,674.7 1053.6,713.0 1054.4,740.6 1055.2,736.6 1056.0,719.1 1056.8,726.5 1057.6,729.6 1058.4,729.9 1059.2,760.6 1060.0,759.3 1060.8,738.8 1061.6,734.5 1062.4,757.5 1063.2,752.0 1064.0,728.3 1064.8,763.6 1065.6,772.8 1066.4,767.9 1067.2,748.3 1068.0,749.9 1068.8,764.4 1069.6,769.8 1070.4,764.4 1071.2,773.2 1072.0,775.5 1072.8,782.8 1073.6,752.9 1074.4,756.7 1075.2,762.6 1076.0,766.7 1076.8,761.8 1077.6,745.2 1078.4,772.0 1079.2,780.5 1080.0,775.5 1080.8,775.9 1081.6,770.7 1082.4,779.2 1083.2,794.1 1084.0,804.3 1084.8,790.6 1085.6,746.7 1086.4,763.6 1087.2,762.0 1088.0,737.0 1088.8,725.9 1089.6,715.3 1090.4,757.5 1091.2,751.9 1092.0,736.0 1092.8,765.9 1093.6,763.9 1094.4,732.7 1095.2,734.6 1096.0,726.8 1096.8,757.5 1097.6,751.1 1098.4,758.4 1099.2,729.7 1100.0,723.0 1100.8,760.6 1101.6,754.7 1102.4,729.9 1103.2,736.5 1104.0,732.8 1104.8,759.2 1105.6,766.7 1106.4,759.3 1107.2,728.5 1108.0,726.0 1108.8,714.5 1109.6,755.0 1110.4,765.2 1111.2,740.6 1112.0,741.8 1112.8,755.4 1113.6,757.5 1114.4,755.5 1115.2,746.7 1116.0,758.4 1116.8,761.3 1117.6,755.2" fill="none" stroke="#d285bd" stroke-width="3.2" stroke-linejoin="round" stroke-linecap="round"/>
<line x1="637.5" y1="751.8" x2="1125" y2="751.8" stroke="#d285bd" stroke-width="1.7" stroke-dasharray="13,4.8" stroke-dashoffset="5.7"/>
<polyline points="637.3,734.5 641.1,732.9 645.7,734.5 650.3,732.2 654.2,729.6 658.0,732.9 663.4,730.6 667.2,734.5 671.8,735.2 676.4,734.5 681.0,734.5 685.6,733.3 692.5,732.2 696.3,736.0 701.0,742.9 706.3,749.0 708.6,757.5 711.7,762.1 714.8,768.2 718.6,775.9 722.4,781.3 727.0,778.2 730.9,775.1 733.9,769.0 737.8,765.5 742.4,766.2 747.0,765.5 751.6,762.1 755.4,757.5 757.7,749.8 762.3,746.7 766.9,744.4 771.5,743.4 775.3,744.4 779.2,740.6 782.2,741.4 786.1,739.1 789.1,736.8 792.2,739.8 796.0,742.9 799.9,744.0 803.7,746.0 808.3,748.6 810.0,747.5 813.8,751.3 819.2,753.7 823.0,759.0 826.9,766.7 830.7,775.9 834.5,791.2 838.4,808.1 841.4,816.5 845.3,820.4 849.1,815.8 852.2,803.5 855.2,788.2 858.3,769.8 862.1,762.1 866.7,754.4 870.6,749.8 875.2,751.3 877.5,747.5 882.1,744.4 888.2,740.3 892.8,743.7 897.4,742.9 902.0,744.0 905.9,745.5 910.5,742.9 915.8,741.4 921.2,743.7 926.6,740.6 932.7,738.3 937.3,736.0 941.9,737.5 948.0,739.4 953.4,740.6 958.0,742.9 960.0,742.1 963.8,740.6 967.7,742.9 972.3,742.9 975.3,743.7 979.9,746.4 984.5,747.1 990.7,744.0 996.8,744.0 1001.4,745.2 1006.0,747.5 1010.6,748.3 1016.7,747.5 1020.6,746.7 1021.3,760.0 1021.9,800.0 1022.3,925.0 1024.0,918.0 1024.3,902.0 1026.0,867.0 1027.7,846.0 1029.8,833.4 1031.4,830.9 1033.5,833.4 1036.0,832.5 1037.3,829.2 1037.9,815.0 1038.6,720.0 1039.8,635.9 1041.5,660.0 1044.5,702.0 1046.7,714.5 1049.7,705.3 1052.8,702.3 1056.6,706.9 1061.2,714.5 1065.8,723.0 1068.9,726.0 1073.5,734.5 1078.1,739.1 1082.7,743.4 1087.3,746.0 1091.9,747.1 1096.5,748.3 1101.1,748.0 1105.7,749.5 1109.5,752.1 1114.1,754.1" fill="none" stroke="#0f9a7a" stroke-width="4.0" stroke-linejoin="round" stroke-linecap="round"/>
</g>
<text x="1069" y="684.5" font-size="14.4" text-anchor="start" fill="#111" textLength="60" lengthAdjust="spacingAndGlyphs" font-family='"Liberation Sans", sans-serif' stroke="#111" stroke-width="0.22">Long-run</text>
<text x="1069" y="699.3" font-size="14.4" text-anchor="start" fill="#111" textLength="62.7" lengthAdjust="spacingAndGlyphs" font-family='"Liberation Sans", sans-serif' stroke="#111" stroke-width="0.22">avg = 4.5</text>
<line x1="1123.8" y1="707.6" x2="1123.8" y2="738" stroke="#e8112d" stroke-width="1.3"/>
<polygon points="1119.3,736 1128.3,736 1123.8,744" fill="#e8112d"/>
<rect x="616.6" y="500.6" width="548.3000000000001" height="102.79999999999995" fill="#fff" stroke="#969e9a" stroke-width="2.7"/>
<text x="886" y="529" font-size="19.6" text-anchor="middle" fill="#111" textLength="164.5" lengthAdjust="spacingAndGlyphs" font-weight="bold">Embrace the Noise</text>
<line x1="628.9" y1="553.2" x2="644.4" y2="553.2" stroke="#d285bd" stroke-width="3.8" stroke-linecap="round"/>
<text x="651" y="558.85" font-size="19.3" text-anchor="start" fill="#111" textLength="497" lengthAdjust="spacingAndGlyphs" stroke="#111" stroke-width="0.22">Nominal Withheld/FICA Employment Taxes (YoY%, left)</text>
<line x1="628.9" y1="578.3" x2="644.4" y2="578.3" stroke="#0f9a7a" stroke-width="3.8" stroke-linecap="round"/>
<text x="651" y="584.85" font-size="19.3" text-anchor="start" fill="#111" textLength="331" lengthAdjust="spacingAndGlyphs" stroke="#111" stroke-width="0.22">Nonfarm Payroll Employment (YoY%)</text>
</svg></body></html>
